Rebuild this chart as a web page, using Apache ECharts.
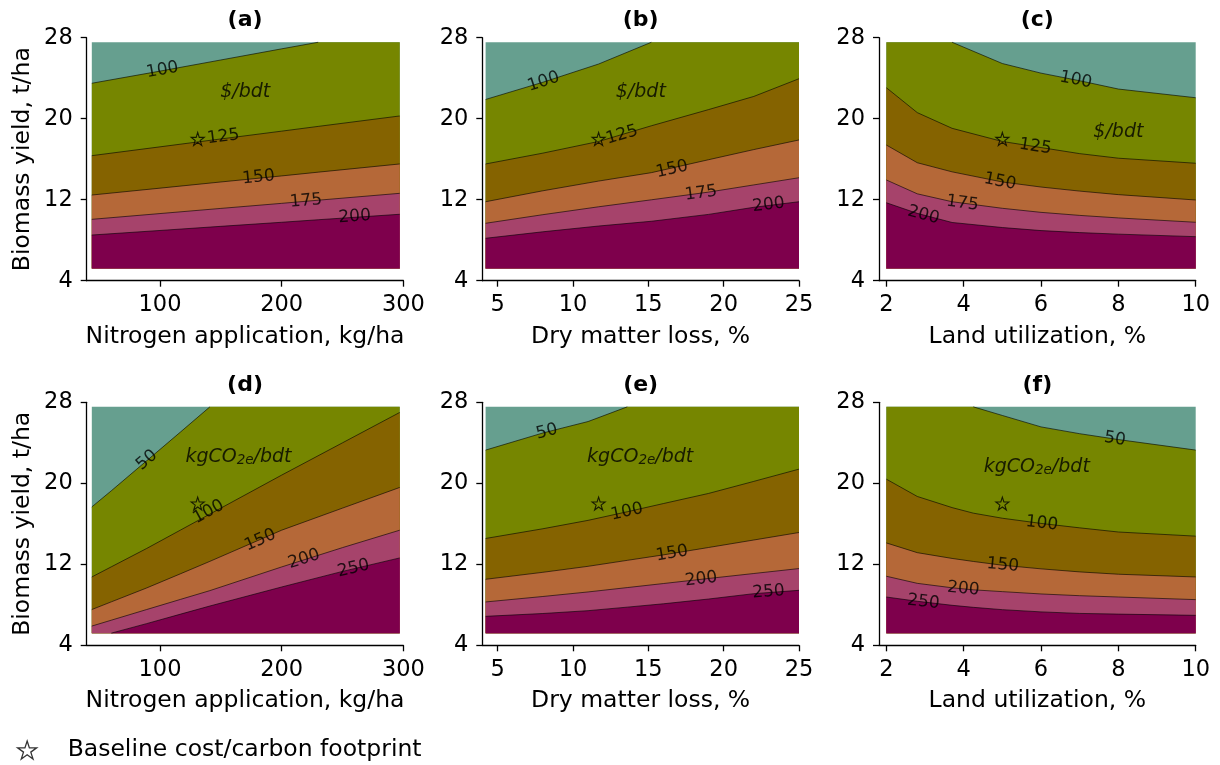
<!DOCTYPE html>
<html><head><meta charset="utf-8">
<script src="https://cdn.jsdelivr.net/npm/echarts@6/dist/echarts.min.js"></script>
<style>html,body{margin:0;padding:0;background:#fff}#c{width:1220px;height:765px}</style>
</head><body><div id="c"></div>
<script>
// ---------- data ----------
const Y_LOW = 5.2, Y_HIGH = 27.55;          // extent of computed yield grid
const yTicks = [4, 12, 20, 28];
const nTicks = [100, 200, 300];
const dmlTicks = [5, 10, 15, 20, 25];
const luTicks = [2, 4, 6, 8, 10];
const costLevels = ['100', '125', '150', '175', '200'];
const carbonLevels = ['50', '100', '150', '200', '250'];
const nStar = [131, 18], dmlStar = [11.7, 18], luStar = [5, 18];

// (a) cost vs nitrogen application
const aX = [44, 100, 150, 200, 230, 297];
const aLines = [
  [23.5, 24.7, 25.8, 26.9, 27.55, 29.0],
  [16.35, 17.22, 18.0, 18.77, 19.24, 20.27],
  [12.46, 13.14, 13.75, 14.35, 14.72, 15.53],
  [10.06, 10.63, 11.14, 11.64, 11.95, 12.63],
  [8.51, 8.96, 9.37, 9.77, 10.02, 10.56]
];
const aLabels = [[102, 24.8], [152, 18.2], [181, 14.2], [220, 11.87], [260, 10.32]];
const aUnit = [170, 22.67];

// (b) cost vs dry matter loss
const bX = [4.2, 8, 11.7, 15.2, 19, 22, 25];
const bLines = [
  [21.9, 23.6, 25.4, 27.55, 30, 32, 34],
  [15.53, 16.6, 17.75, 19.3, 20.9, 22.2, 23.95],
  [11.8, 12.88, 13.84, 14.67, 15.95, 16.95, 17.9],
  [9.67, 10.52, 11.3, 11.99, 12.75, 13.46, 14.17],
  [8.19, 8.83, 9.4, 9.87, 10.55, 11.25, 11.8]
];
const bLabels = [[8.05, 23.65], [13.25, 18.39], [16.57, 15.0], [18.5, 12.63], [22.98, 11.48]];
const bUnit = [14.5, 22.67];

// (c) cost vs land utilization
const cX = [2, 2.8, 3.7, 5, 6, 7, 8, 10];
const cLines = [
  [32, 30, 27.55, 25.45, 24.5, 23.75, 22.93, 22.07],
  [23.06, 20.6, 19.05, 17.75, 17.15, 16.55, 16.1, 15.6],
  [17.4, 15.65, 14.75, 13.75, 13.25, 12.85, 12.5, 11.97],
  [13.95, 12.58, 11.8, 11.15, 10.75, 10.45, 10.2, 9.77],
  [11.7, 10.65, 9.75, 9.25, 8.95, 8.75, 8.6, 8.35]
];
const cLabels = [[6.9, 23.82], [5.85, 17.24], [4.94, 13.78], [3.97, 11.64], [2.96, 10.49]];
const cUnit = [8.0, 18.72];

// (d) carbon vs nitrogen application
const dX = [44, 60, 89, 117, 141, 200, 250, 297];
const dLines = [
  [17.67, 19.26, 22.22, 25.08, 27.55, 34, 40, 45],
  [10.75, 11.75, 13.56, 15.39, 16.96, 20.81, 24.0, 27.0],
  [7.53, 8.29, 9.66, 11.07, 12.29, 15.37, 17.55, 19.59],
  [5.9, 6.48, 7.53, 8.54, 9.4, 11.74, 13.65, 15.37],
  [4.6, 5.2, 6.14, 7.08, 7.88, 9.76, 11.3, 12.63]
];
const dLabels = [[89.2, 22.3], [139.9, 17.18], [182.4, 14.38], [218.4, 12.5], [259, 11.58]];
const dUnit = [164.5, 22.62];

// (e) carbon vs dry matter loss
const eX = [4.2, 8, 11, 13.6, 16, 19, 22, 25];
const eLines = [
  [23.28, 24.97, 26.1, 27.55, 29, 30, 31, 32],
  [14.55, 15.51, 16.34, 17.19, 18.0, 19.0, 20.19, 21.4],
  [10.52, 11.21, 11.8, 12.39, 12.93, 13.66, 14.4, 15.14],
  [8.28, 8.82, 9.27, 9.7, 10.1, 10.6, 11.09, 11.58],
  [6.86, 7.14, 7.42, 7.77, 8.1, 8.57, 9.1, 9.43]
];
const eLabels = [[8.27, 25.09], [13.58, 17.18], [16.57, 13.06], [18.5, 10.52], [22.98, 9.27]];
const eUnit = [14.46, 22.62];

// (f) carbon vs land utilization
const fX = [2, 2.8, 3.7, 4.25, 5, 6, 7, 8, 10];
const fLines = [
  [33, 31, 29, 27.55, 26.7, 25.57, 24.9, 24.32, 23.28],
  [20.41, 18.7, 17.6, 17.05, 16.55, 16.04, 15.6, 15.19, 14.78],
  [14.11, 13.15, 12.58, 12.28, 11.91, 11.55, 11.25, 11.02, 10.75],
  [10.82, 10.12, 9.68, 9.48, 9.3, 9.07, 8.9, 8.77, 8.51],
  [8.77, 8.35, 7.95, 7.75, 7.52, 7.3, 7.15, 7.08, 6.96]
];
const fLabels = [[7.91, 24.37], [6.02, 16.03], [5.01, 11.91], [3.99, 9.57], [2.96, 8.28]];
const fUnit = [5.89, 21.63];

// ---------- layout / style ----------
const FONT = '"DejaVu Sans", sans-serif';
const regionColors = ['#669F8F', '#768600', '#856300', '#B56838', '#A6436B', '#7E004C']; // top -> bottom
const colLeft = [86.7, 482.3, 879], colWidth = 316.7;
const rowTop = [37.7, 402.3], rowHeight = 243;
const xAxisDefs = [
  {min: 39.8, max: 300, ticks: nTicks, name: 'Nitrogen application, kg/ha'},
  {min: 3.98, max: 25, ticks: dmlTicks, name: 'Dry matter loss, %'},
  {min: 1.81, max: 10, ticks: luTicks, name: 'Land utilization, %'}
];
const panels = [
  {t: '(a)', x: aX, L: aLines, lab: aLabels, lev: costLevels, unit: aUnit, star: nStar, carbon: false},
  {t: '(b)', x: bX, L: bLines, lab: bLabels, lev: costLevels, unit: bUnit, star: dmlStar, carbon: false},
  {t: '(c)', x: cX, L: cLines, lab: cLabels, lev: costLevels, unit: cUnit, star: luStar, carbon: false},
  {t: '(d)', x: dX, L: dLines, lab: dLabels, lev: carbonLevels, unit: dUnit, star: nStar, carbon: true},
  {t: '(e)', x: eX, L: eLines, lab: eLabels, lev: carbonLevels, unit: eUnit, star: dmlStar, carbon: true},
  {t: '(f)', x: fX, L: fLines, lab: fLabels, lev: carbonLevels, unit: fUnit, star: luStar, carbon: true}
];
const STAR = 'path://M50,2 L61.2,36.4 L97.5,36.4 L68.2,57.6 L79.4,92 L50,70.8 L20.6,92 L31.8,57.6 L2.5,36.4 L38.8,36.4 Z';
const clip = v => Math.min(Math.max(v, Y_LOW), Y_HIGH);

const grids = [], xAxes = [], yAxes = [], series = [], graphics = [];
panels.forEach((p, i) => {
  const col = i % 3, row = Math.floor(i / 3);
  const ax = xAxisDefs[col];
  grids.push({left: colLeft[col], top: rowTop[row], width: colWidth, height: rowHeight});
  const axisCommon = {
    axisLine: {lineStyle: {color: '#000', width: 1.3}},
    axisTick: {length: 6, lineStyle: {color: '#000', width: 1.3}},
    splitLine: {show: false},
    axisLabel: {color: '#000', fontSize: 22.5, fontFamily: FONT},
    nameTextStyle: {color: '#000', fontSize: 23.5, fontFamily: FONT}
  };
  xAxes.push(Object.assign({}, axisCommon, {
    type: 'value', gridIndex: i, min: ax.min, max: ax.max,
    name: ax.name, nameLocation: 'middle', nameGap: 44,
    axisTick: Object.assign({}, axisCommon.axisTick, {customValues: ax.ticks}),
    axisLabel: Object.assign({}, axisCommon.axisLabel, {customValues: ax.ticks, margin: 13})
  }));
  yAxes.push(Object.assign({}, axisCommon, {
    type: 'value', gridIndex: i, min: 4, max: 28,
    name: col === 0 ? 'Biomass yield, t/ha' : '', nameLocation: 'middle', nameGap: 52,
    axisTick: Object.assign({}, axisCommon.axisTick, {customValues: yTicks}),
    axisLabel: Object.assign({}, axisCommon.axisLabel, {customValues: yTicks, margin: 14})
  }));
  // title
  graphics.push({type: 'text', x: colLeft[col] + colWidth / 2, y: row === 0 ? 20.5 : 385,
    style: {text: p.t, fill: '#000', font: 'bold 22px ' + FONT, align: 'center', verticalAlign: 'middle',
            textAlign: 'center', textVerticalAlign: 'middle'}});

  // filled bands: each band's upper boundary filled down to the grid's lower edge, painted top band first
  const cl = p.L.map(line => line.map(clip));      // clipped boundaries, top -> bottom
  const uppers = [p.x.map(() => Y_HIGH)].concat(cl);
  uppers.forEach((up, k) => {
    series.push({type: 'line', xAxisIndex: i, yAxisIndex: i, symbol: 'none', silent: true,
      lineStyle: {width: 0, opacity: 0},
      areaStyle: {color: regionColors[k], opacity: 1, origin: Y_LOW},
      data: p.x.map((x, j) => [x, up[j]]), z: 2});
  });
  // contour lines
  p.L.forEach(line => {
    series.push({type: 'line', xAxisIndex: i, yAxisIndex: i, symbol: 'none', silent: true,
      lineStyle: {color: '#000', width: 0.6},
      data: p.x.map((x, j) => [x, (line[j] >= Y_LOW - 0.001 && line[j] <= Y_HIGH + 0.001) ? line[j] : null]), z: 3});
  });
  // contour labels (rotation follows the line in pixel space)
  const pxX = colWidth / (ax.max - ax.min), pxY = rowHeight / 24;
  const labData = p.lab.map((pos, k) => {
    const line = p.L[k];
    let j = 0;
    while (j < p.x.length - 2 && p.x[j + 1] < pos[0]) j++;
    const ang = Math.atan2((line[j + 1] - line[j]) * pxY, (p.x[j + 1] - p.x[j]) * pxX) * 180 / Math.PI;
    return {value: pos, label: {rotate: ang, formatter: p.lev[k]}};
  });
  series.push({type: 'scatter', xAxisIndex: i, yAxisIndex: i, symbolSize: 0, silent: true, z: 4,
    label: {show: true, position: 'inside', color: '#000', fontSize: 17, fontFamily: FONT},
    data: labData});
  // unit text
  series.push({type: 'scatter', xAxisIndex: i, yAxisIndex: i, symbolSize: 0, silent: true, z: 4,
    label: {show: true, position: 'inside', color: '#000', fontFamily: FONT, fontStyle: 'italic', fontSize: 19,
      formatter: p.carbon ? '{m|kgCO}{s|2e}{m|/bdt}' : '{m|$/bdt}',
      rich: {m: {fontSize: 19, fontStyle: 'italic', fontFamily: FONT, color: '#000', lineHeight: 22, verticalAlign: 'middle'},
             s: {fontSize: 13.5, fontStyle: 'italic', fontFamily: FONT, color: '#000', lineHeight: 22, verticalAlign: 'bottom', padding: [8, 0, 0, 0]}}},
    data: [p.unit]});
  // baseline star
  series.push({type: 'scatter', name: 'Baseline cost/carbon footprint', xAxisIndex: i, yAxisIndex: i,
    symbol: STAR, symbolSize: 13, silent: true, z: 5,
    itemStyle: {color: 'rgba(0,0,0,0)', borderColor: '#000', borderWidth: 1.1},
    data: [p.star]});
});

const chart = echarts.init(document.getElementById('c'), null, {renderer: 'canvas'});
chart.setOption({
  animation: false,
  backgroundColor: '#fff',
  textStyle: {fontFamily: FONT},
  grid: grids, xAxis: xAxes, yAxis: yAxes, series: series,
  graphic: graphics,
  legend: {
    data: ['Baseline cost/carbon footprint'], left: 17, top: 738, padding: 0,
    icon: STAR, itemWidth: 19, itemHeight: 19,
    itemStyle: {color: 'rgba(0,0,0,0)', borderColor: '#000', borderWidth: 1.3},
    textStyle: {color: '#000', fontSize: 23.5, fontFamily: FONT, padding: [0, 0, 0, 26]}
  }
});
</script></body></html>
